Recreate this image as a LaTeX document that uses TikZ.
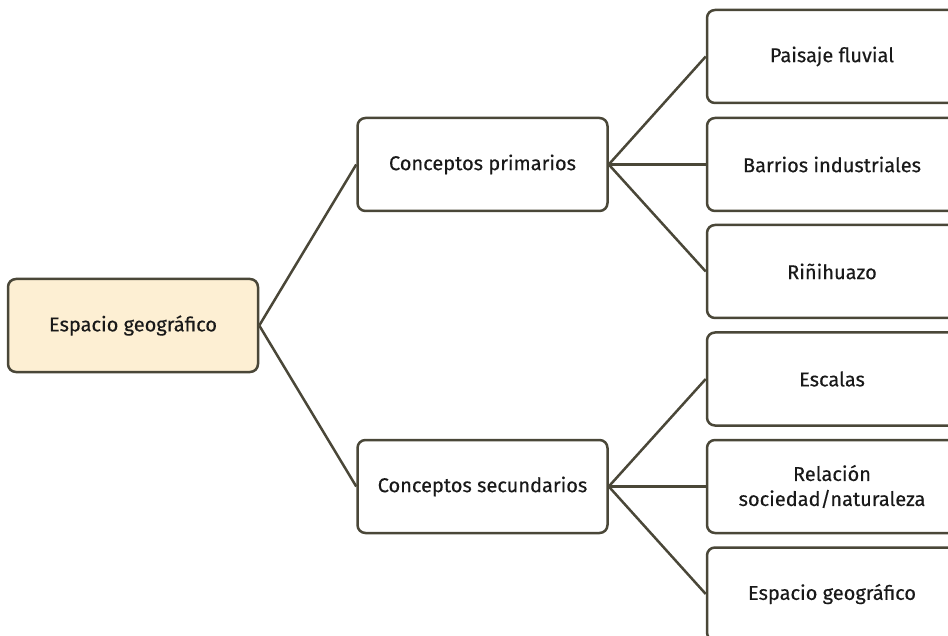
\documentclass[tikz,border=0pt]{standalone}
\usepackage{fontspec}
\setmainfont{Fira Sans}[FakeBold=0.35]
\definecolor{edge}{HTML}{4A4738}
\definecolor{cream}{HTML}{FDEFD3}
\begin{document}
\begin{tikzpicture}[x=1pt,y=-1pt,
  box/.style={draw=edge,line width=2.5pt,rounded corners=8pt,minimum width=250pt,minimum height=93pt,fill=white,align=center,font=\fontsize{20}{25}\selectfont,text=black!90},
  link/.style={draw=edge,line width=2.5pt}]
\useasboundingbox (0,0) rectangle (948,636);
\node[box,fill=cream] (root) at (133,325.5) {Espacio geográfico};
\node[box] (prim) at (482.5,164.5) {Conceptos primarios};
\node[box] (sec) at (482.5,486.5) {Conceptos secundarios};
\node[box] (p1) at (832,56.5) {Paisaje fluvial};
\node[box] (p2) at (832,164.5) {Barrios industriales};
\node[box] (p3) at (832,271.5) {Riñihuazo};
\node[box] (s1) at (832,379) {Escalas};
\node[box] (s2) at (832,486.5) {Relación\\sociedad/naturaleza};
\node[box] (s3) at (832,594) {Espacio geográfico};
\draw[link] (root.east) -- (prim.west);
\draw[link] (root.east) -- (sec.west);
\foreach \c in {p1,p2,p3} \draw[link] (prim.east) -- (\c.west);
\foreach \c in {s1,s2,s3} \draw[link] (sec.east) -- (\c.west);
\end{tikzpicture}
\end{document}
